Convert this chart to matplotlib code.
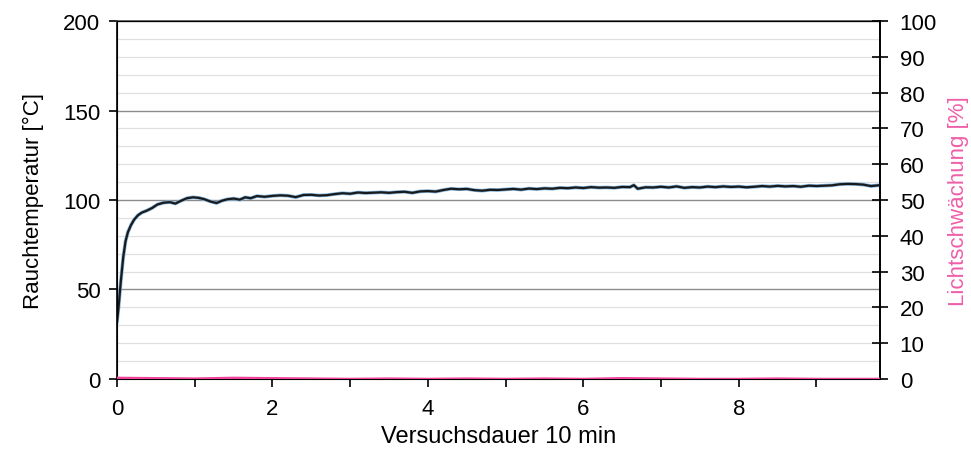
import matplotlib.pyplot as plt
from matplotlib.ticker import MultipleLocator

plt.rcParams['font.family'] = ['Liberation Sans', 'DejaVu Sans']

# Versuchsdauer [min] und Rauchtemperatur [°C]
temp_x = [0.0, 0.02, 0.05, 0.08, 0.11, 0.14, 0.18, 0.22, 0.27, 0.32, 0.38, 0.45,
          0.52, 0.6, 0.68, 0.75, 0.82, 0.9, 0.98, 1.05, 1.12, 1.2, 1.28, 1.35,
          1.42, 1.5, 1.58, 1.65, 1.72, 1.8, 1.9, 2.0, 2.1, 2.2, 2.3, 2.4, 2.5,
          2.6, 2.7, 2.8, 2.9, 3.0, 3.1, 3.2, 3.3, 3.4, 3.5, 3.6, 3.7, 3.8, 3.9,
          4.0, 4.1, 4.2, 4.3, 4.4, 4.5, 4.6, 4.7, 4.8, 4.9, 5.0, 5.1, 5.2, 5.3,
          5.4, 5.5, 5.6, 5.7, 5.8, 5.9, 6.0, 6.1, 6.2, 6.3, 6.4, 6.5, 6.6, 6.65,
          6.7, 6.8, 6.9, 7.0, 7.1, 7.2, 7.3, 7.4, 7.5, 7.6, 7.7, 7.8, 7.9, 8.0,
          8.1, 8.2, 8.3, 8.4, 8.5, 8.6, 8.7, 8.8, 8.9, 9.0, 9.1, 9.2, 9.3, 9.4,
          9.5, 9.6, 9.7, 9.8]
temp = [32, 40, 55, 68, 77, 82, 86, 89, 91.5, 93, 94, 95.5,
        97.5, 98.5, 98.8, 98, 99.5, 101, 101.5, 101.2, 100.5, 99.2, 98.3, 99.6,
        100.4, 100.8, 100.2, 101.5, 101, 102.2, 101.8, 102.3, 102.6, 102.4, 101.6, 102.8, 102.9,
        102.5, 102.7, 103.3, 103.8, 103.5, 104.2, 103.9, 104.1, 104.3, 104.0, 104.4, 104.6, 104.0, 104.8,
        105.0, 104.7, 105.6, 106.3, 106.0, 106.2, 105.5, 105.2, 105.7, 105.6, 105.9, 106.2, 105.8, 106.4,
        106.1, 106.5, 106.3, 106.8, 106.6, 107.0, 106.7, 107.2, 106.9, 107.0, 106.8, 107.3, 107.2, 108.3,
        106.3, 107.1, 107.0, 107.4, 107.0, 107.6, 106.8, 107.2, 107.0, 107.5, 107.2, 107.6, 107.3, 107.5,
        107.1, 107.4, 107.8, 107.5, 107.9, 107.6, 107.8, 107.4, 108.0, 107.8, 108.0, 108.2, 108.8, 109.0,
        108.9, 108.6, 107.8, 108.2]

# Lichtschwächung [%]
licht_x = [0.0, 0.5, 1.0, 1.5, 2.0, 2.5, 3.0, 3.5, 4.0, 4.5, 5.0, 5.5, 6.0, 6.5,
           7.0, 7.5, 8.0, 8.5, 9.0, 9.5, 9.8]
licht = [0.3, 0.2, 0.1, 0.3, 0.2, 0.1, 0.0, 0.1, 0.0, 0.1, 0.0, 0.1, 0.0, 0.2,
         0.1, 0.0, 0.0, 0.1, 0.0, 0.0, 0.0]

fig = plt.figure(figsize=(9.71, 4.56), dpi=100)
ax = fig.add_axes([0.1205, 0.1667, 0.786, 0.785])

ax.plot(temp_x, temp, color='#7fb2dc', linewidth=2.6, zorder=3)
ax.plot(temp_x, temp, color='#1a1a1a', linewidth=1.6, zorder=4)

ax.set_xlim(0, 9.82)
ax.set_ylim(0, 200)
ax.xaxis.set_major_locator(MultipleLocator(2))
ax.xaxis.set_minor_locator(MultipleLocator(1))
ax.yaxis.set_major_locator(MultipleLocator(50))
ax.yaxis.set_minor_locator(MultipleLocator(10))
ax.grid(which='major', axis='y', color='#8c8c8c', linewidth=1.0)
ax.grid(which='minor', axis='y', color='#e0e0e0', linewidth=0.9)
ax.tick_params(axis='x', which='both', direction='out', length=6, width=1.2,
               labelsize=16, pad=8)
ax.tick_params(axis='y', which='major', direction='out', length=6, width=1.2,
               labelsize=16, pad=6)
ax.tick_params(axis='y', which='minor', length=0)
for s in ax.spines.values():
    s.set_linewidth(1.2)
ax.spines['top'].set_color('#555555')
ax.set_ylabel('Rauchtemperatur [°C]', fontsize=16, labelpad=14)
ax.set_xlabel('Versuchsdauer 10 min', fontsize=17, labelpad=4)

ax2 = ax.twinx()
ax2.plot(licht_x, licht, color='#f0449a', linewidth=1.8, zorder=5)
ax2.set_ylim(0, 100)
ax2.yaxis.set_major_locator(MultipleLocator(10))
ax2.tick_params(axis='y', direction='inout', length=12, width=1.2,
                labelsize=16, pad=8)
ax2.spines['right'].set_linewidth(1.2)
ax2.set_ylabel('Lichtschwächung [%]', fontsize=16, color='#ee5fa8', labelpad=8)

fig.savefig('out.png', dpi=100)
